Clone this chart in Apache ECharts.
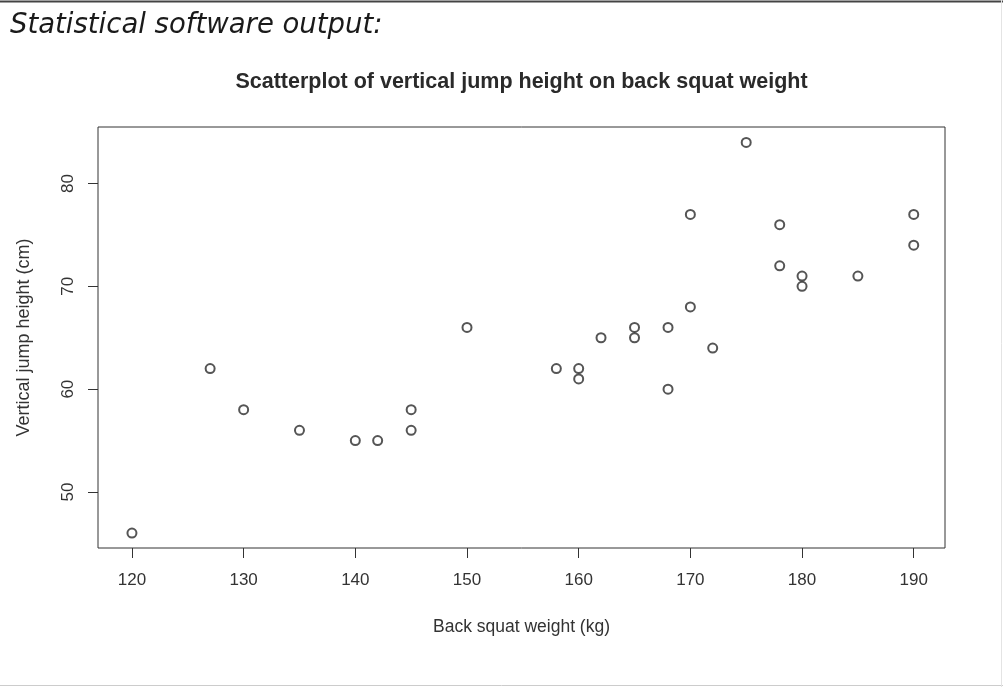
<!DOCTYPE html>
<html>
<head>
<meta charset="utf-8">
<script src="https://cdn.jsdelivr.net/npm/echarts@6/dist/echarts.min.js"></script>
<style>
  html, body { margin: 0; padding: 0; background: #fff; }
  #main { width: 1003px; height: 687px; }
</style>
</head>
<body>
<div id="main"></div>
<script>
// back squat weight (kg) vs vertical jump height (cm)
var squatKg = [120, 127, 130, 135, 140, 142, 145, 145, 150, 158, 160, 160, 162, 165,
               165, 168, 168, 170, 170, 172, 175, 178, 178, 180, 180, 185, 190, 190];
var jumpCm  = [46, 62, 58, 56, 55, 55, 58, 56, 66, 62, 62, 61, 65, 66,
               65, 66, 60, 77, 68, 64, 84, 76, 72, 71, 70, 71, 77, 74];
var xTicks = [120, 130, 140, 150, 160, 170, 180, 190];
var yTicks = [50, 60, 70, 80];

var points = squatKg.map(function (x, i) { return [x, jumpCm[i]]; });

var myChart = echarts.init(document.getElementById('main'));
var axisFont = 'Liberation Sans, Arial, sans-serif';

myChart.setOption({
    backgroundColor: '#fff',
    animation: false,
    graphic: [
        { type: 'line', shape: { x1: 0, y1: 1.5, x2: 1003, y2: 1.5 }, style: { stroke: '#444', lineWidth: 2 } },
        { type: 'line', shape: { x1: 0, y1: 685.5, x2: 1003, y2: 685.5 }, style: { stroke: '#ccc', lineWidth: 1 } },
        { type: 'line', shape: { x1: 1001.5, y1: 0, x2: 1001.5, y2: 687 }, style: { stroke: '#e4e4e4', lineWidth: 1 } },
        {
            type: 'text', left: 10, top: 12,
            style: {
                text: 'Statistical software output:',
                font: 'italic 27.5px "DejaVu Sans", sans-serif',
                fill: '#1a1a1a'
            }
        },
        {
            type: 'text', x: 521.5, y: 82,
            style: {
                text: 'Scatterplot of vertical jump height on back squat weight',
                font: 'bold 21.5px "Liberation Sans", Arial, sans-serif',
                fill: '#2a2a2a',
                align: 'center',
                verticalAlign: 'middle'
            }
        }
    ],
    grid: {
        left: 98, top: 127, right: 58, bottom: 139,
        show: true,
        borderColor: '#333',
        borderWidth: 1
    },
    xAxis: {
        type: 'value',
        min: 116.96,
        max: 192.8,
        name: 'Back squat weight (kg)',
        nameLocation: 'middle',
        nameGap: 70,
        nameTextStyle: { fontFamily: axisFont, fontSize: 17.5, color: '#333' },
        axisLine: { show: false },
        splitLine: { show: false },
        axisTick: { show: true, customValues: xTicks, length: 10, lineStyle: { color: '#333' } },
        axisLabel: {
            customValues: xTicks,
            margin: 24,
            fontFamily: axisFont,
            fontSize: 17,
            color: '#333'
        }
    },
    yAxis: {
        type: 'value',
        min: 44.55,
        max: 85.5,
        name: 'Vertical jump height (cm)',
        nameLocation: 'middle',
        nameGap: 65,
        nameTextStyle: { fontFamily: axisFont, fontSize: 18, color: '#333' },
        axisLine: { show: false },
        splitLine: { show: false },
        axisTick: { show: true, customValues: yTicks, length: 10, lineStyle: { color: '#333' } },
        axisLabel: {
            customValues: yTicks,
            rotate: 90,
            margin: 21,
            fontFamily: axisFont,
            fontSize: 17,
            color: '#333'
        }
    },
    series: [{
        type: 'scatter',
        data: points,
        symbol: 'emptyCircle',
        symbolSize: 9,
        itemStyle: { color: '#2a2a2a', borderColor: '#2a2a2a', borderWidth: 1 }
    }]
});
</script>
</body>
</html>
